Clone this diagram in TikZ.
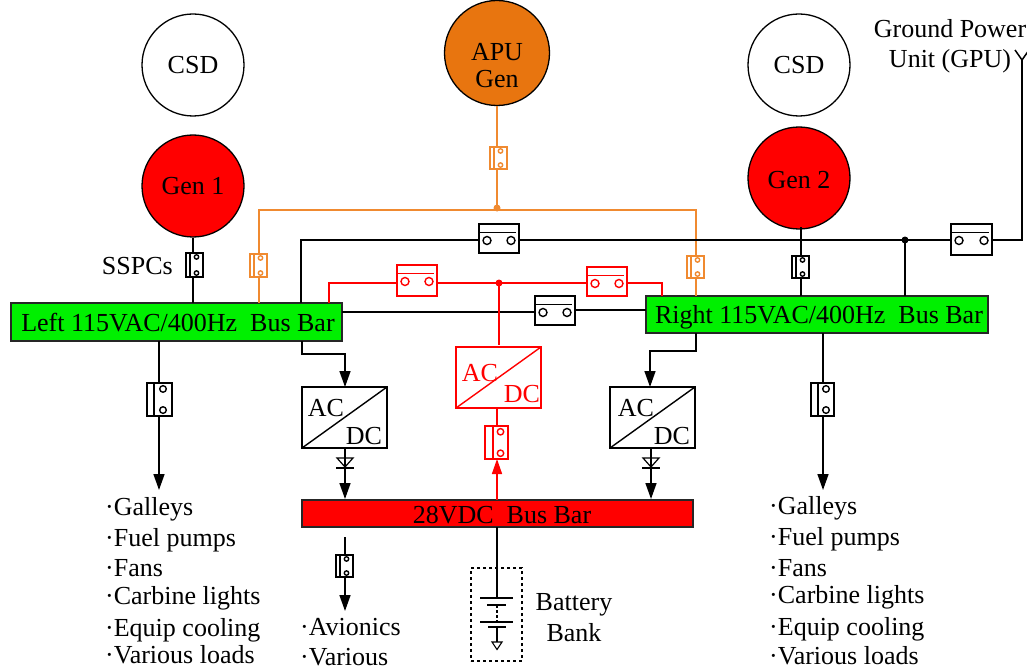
\documentclass[tikz,border=0pt]{standalone}
\usepackage{fontspec}
\setmainfont{Liberation Serif}
\usetikzlibrary{arrows.meta}
\definecolor{apuor}{HTML}{E8750F}
\definecolor{wireor}{HTML}{F08A30}
\definecolor{busgreen}{HTML}{00F000}
\tikzset{
  wire/.style={line width=1.5pt},
  arrowwire/.style={wire,-{Triangle[length=16pt,width=11pt]}},
  brk/.style={draw,rectangle,line width=1.4pt,inner sep=0pt,outer sep=0pt,fill=white},
  term/.style={line width=1.4pt,fill=white},
  disc/.style={draw=black,circle,line width=1.3pt,inner sep=0pt,minimum size=102pt,font=\fontsize{26}{28}\selectfont,align=center},
  bus/.style={draw=black!85,rectangle,line width=1.4pt,inner sep=0pt,outer sep=0pt,font=\fontsize{26}{28}\selectfont},
  conv/.style={draw,rectangle,line width=1.4pt,inner sep=0pt,outer sep=0pt,fill=white},
  label/.style={inner sep=0pt,font=\fontsize{26}{28}\selectfont,align=center},
  item/.style={inner sep=0pt,anchor=base west,font=\fontsize{26}{28}\selectfont},
  dot/.style={circle,inner sep=0pt,minimum size=7pt},
}
% horizontal breaker: name,x0,y0,x1,y1,colour
\newcommand{\hbrk}[6]{%
  \node[brk,draw=#6,minimum width={(#4-#2)*1pt},minimum height={(#5-#3)*1pt}] (#1) at ({(#2+#4)/2},{(#3+#5)/2}) {};
  \draw[#6,line width=1.4pt] ({#2+1},{#3+8.5}) -- ({#4-3},{#3+8.5});
  \draw[#6,term] ({#2+8},{#3+16.5}) circle (4);
  \draw[#6,term] ({#4-8},{#3+16.5}) circle (4);
}
% vertical breaker: name,x0,y0,x1,y1,colour,inner line offset,radius
\newcommand{\vbrk}[8]{%
  \node[brk,draw=#6,minimum width={(#4-#2)*1pt},minimum height={(#5-#3)*1pt}] (#1) at ({(#2+#4)/2},{(#3+#5)/2}) {};
  \draw[#6,line width=1.2pt] ({#2+#7},#3) -- ({#2+#7},#5);
  \draw[#6,term] ({(#2+#4)/2+#7/2},{#3+1.8*#8}) circle (#8);
  \draw[#6,term] ({(#2+#4)/2+#7/2},{#5-1.8*#8}) circle (#8);
}
% converter: name,x0,y0,x1,y1,colour,AC pos,DC pos
\newcommand{\acdc}[8]{%
  \node[conv,draw=#6,minimum width={(#4-#2)*1pt},minimum height={(#5-#3)*1pt}] (#1) at ({(#2+#4)/2},{(#3+#5)/2}) {};
  \draw[#6,line width=1.4pt] (#1.south west) -- (#1.north east);
  \node[label,text=#6] (#1-ac) at #7 {AC};
  \node[label,text=#6] (#1-dc) at #8 {DC};
}
% diode at x, top y
\newcommand{\diode}[3]{%
  \node[inner sep=0pt,minimum size=0pt] (#1) at (#2,#3) {};
  \draw[line width=1.2pt] ({#2-8},#3) -- ({#2+8},#3) -- (#2,{#3+9}) -- cycle;
  \draw[line width=1.4pt] ({#2-9},{#3+10}) -- ({#2+9},{#3+10});
}
\begin{document}
\begin{tikzpicture}[x=1pt,y=-1pt]
\useasboundingbox (0,0) rectangle (1027,671);

% ---------- sources
\node[disc,fill=white] (csd1) at (193,65) {CSD};
\node[disc,fill=red] (gen1) at (193,186) {Gen 1};
\node[disc,fill=apuor,minimum size=105pt] (apu) at (497,53) {};
\node[label] (apulabel) at (497,66) {APU\\[-1pt]Gen};
\node[disc,fill=white] (csd2) at (799,65) {CSD};
\node[disc,fill=red] (gen2) at (799,178) {};
\node[label] (gen2label) at (799,180) {Gen 2};

% ---------- buses
\node[bus,fill=busgreen,minimum width=331pt,minimum height=38pt] (lbus) at (176.5,322) {};
\node[label] (lbuslabel) at (178,323) {Left 115VAC/400Hz\ \ Bus Bar};
\node[bus,fill=busgreen,minimum width=342pt,minimum height=37pt] (rbus) at (817,314.5) {};
\node[label] (rbuslabel) at (819,317) {Right 115VAC/400Hz\ \ Bus Bar};
\node[bus,fill=red,minimum width=391pt,minimum height=27pt] (dcbus) at (497.5,513.5) {};
\node[label] (dclabel) at (502,515) {28VDC\ \ Bus Bar};

% ---------- named connection points
\coordinate (gpuant) at (1022,60);
\coordinate (gputurn) at (1022,240);
\coordinate (blkstart) at (301,240);
\coordinate (blkdown) at (301,303);
\coordinate (dotblk) at (905,240);
\coordinate (dotblkd) at (905,296);
\coordinate (ornL) at (259,210);
\coordinate (ornR) at (696,210);
\coordinate (dotorn) at (497,208);
\coordinate (redL) at (329,303);
\coordinate (redLt) at (329,283);
\coordinate (redR) at (662,296);
\coordinate (redRt) at (662,283);
\coordinate (dotred) at (499,283);
\coordinate (redend) at (499,345);

% ---------- wires first (breakers sit on top)
\draw[wireor,wire] (apu.south) -- (dotorn);
\draw[wireor,wire] (lbus.north -| ornL) -- (ornL) -- (ornR) -- (rbus.north -| ornR);
\draw[wire] (gen1.south) -- (lbus.north -| gen1.south);
\draw[wire] (blkdown) -- (blkstart) -- (gputurn) -- (gpuant);
\draw[wire] (801,227) -- (801,296);
\draw[wire] (dotblk) -- (dotblkd);
\draw[red,wire] (redL) -- (redLt) -- (redRt) -- (redR);
\draw[wire] (342,312) -- (535,312);
\draw[wire] (575,310) -- (646,310);

% antenna
\coordinate (gpuA) at (1015,50);
\coordinate (gpuB) at (1029,50);
\draw[wire] (gpuA) -- (gpuant) -- (gpuB);

% junction dots
\node[dot,fill=wireor] (jo) at (dotorn) {};
\node[dot,fill=black] (jb) at (dotblk) {};
\node[dot,fill=red] (jr) at (dotred) {};
\draw[draw=red,line width=1.5pt] (jr.center) -- (redend);

% ---------- breakers on the upper network
\vbrk{ssp1}{186}{253}{203}{277}{black}{4}{2.2}
\vbrk{ssa}{490}{147}{507}{169}{wireor}{4}{2.2}
\vbrk{ssl}{250}{254}{267}{277}{wireor}{4}{2.2}
\vbrk{ssr}{687}{256}{704}{278}{wireor}{4}{2.2}
\vbrk{ssg2}{792}{256}{809}{278}{black}{4}{2.2}
\hbrk{tie1}{479}{224}{519}{253}{black}
\hbrk{tieg}{951}{224}{992}{255}{black}
\hbrk{tie2}{535}{296}{575}{325}{black}
\hbrk{redb1}{397}{265}{437}{296}{red}
\hbrk{redb2}{587}{267}{627}{296}{red}

% ---------- converters
\acdc{cl}{302}{387}{387}{448}{black}{(326,408)}{(364,436)}
\acdc{cr}{610}{387}{695}{448}{black}{(636,408)}{(672,436)}
\acdc{cm}{456}{347}{541}{408}{red}{(480,373)}{(522,394)}

% bus to converter feeds
\coordinate (lf1) at (302,341);
\coordinate (lf2) at (302,354);
\coordinate (lf3) at (345,354);
\draw[arrowwire] (lf1) -- (lf2) -- (lf3) -- (cl.north -| lf3);
\coordinate (rf1) at (696,333);
\coordinate (rf2) at (696,351);
\coordinate (rf3) at (650,351);
\draw[arrowwire] (rf1) -- (rf2) -- (rf3) -- (cr.north -| rf3);

% load feeders
\coordinate (ll1) at (159,341);
\coordinate (ll2) at (159,490);
\draw[arrowwire] (ll1) -- (ll2);
\vbrk{bl}{147}{383}{172}{416}{black}{7}{3.3}
\coordinate (rl1) at (823,333);
\coordinate (rl2) at (823,490);
\draw[arrowwire] (rl1) -- (rl2);
\vbrk{br}{811}{383}{834}{416}{black}{7}{3.3}

% diodes and DC feeds
\coordinate (dlt) at (345,448);
\coordinate (dlb) at (345,499);
\draw[arrowwire] (dlt) -- (dlb);
\diode{dl}{345}{458}
\coordinate (drt) at (651,448);
\coordinate (drb) at (651,499);
\draw[arrowwire] (drt) -- (drb);
\diode{dr}{651}{458}

% red link between DC bus and converter
\coordinate (mt) at (497,408);
\coordinate (mb) at (497,426);
\draw[red,wire] (mt) -- (mb);
\vbrk{bm}{485}{426}{508}{459}{red}{8}{3.2}
\coordinate (mu) at (497,500);
\draw[red,wire,-{Triangle[length=15pt,width=10pt]}] (mu) -- (bm.south -| mu);

% avionics feed
\coordinate (av1) at (345,537);
\coordinate (av2) at (345,611);
\draw[arrowwire] (av1) -- (av2);
\vbrk{bav}{336}{555}{353}{577}{black}{4}{2.2}

% ---------- battery
\node[draw,dashed,line width=1.1pt,inner sep=0pt,minimum width=51pt,minimum height=93pt] (batbox) at (496.5,614.5) {};
\coordinate (bat0) at (497,527);
\coordinate (bat1) at (497,598);
\coordinate (bat2) at (497,605);
\coordinate (bat3) at (497,622);
\coordinate (bat4) at (497,627);
\coordinate (bat5) at (497,642);
\draw[wire] (bat0) -- (bat1);
\draw[wire] (480,598) -- (513,598);
\draw[wire] (487,605) -- (506,605);
\draw[wire,densely dashed] (bat2) -- (bat3);
\draw[wire] (480,622) -- (513,622);
\draw[wire] (488,627) -- (506,627);
\draw[wire] (bat4) -- (bat5);
\draw[line width=1.1pt] (492,642) -- (502,642) -- (497,649.5) -- cycle;

% ---------- labels
\node[label,anchor=east] (sspc) at (173,266) {SSPCs};
\node[label] (bat-a) at (574,605) {Battery};
\node[label] (bat-b) at (574,633) {Bank};
\node[label] (gpu-a) at (950,29) {Ground Power};
\node[label] (gpu-b) at (950,61) {Unit (GPU)};

\node[item] (la) at (105,515) {·Galleys};
\node[item] (lb) at (105,546) {·Fuel pumps};
\node[item] (lc) at (105,576) {·Fans};
\node[item] (ld) at (105,604) {·Carbine lights};
\node[item] (le) at (105,636) {·Equip cooling};
\node[item] (lf) at (105,663) {·Various loads};

\node[item] (ra) at (769,514) {·Galleys};
\node[item] (rb) at (769,545) {·Fuel pumps};
\node[item] (rc) at (769,576) {·Fans};
\node[item] (rd) at (769,603) {·Carbine lights};
\node[item] (re) at (769,635) {·Equip cooling};
\node[item] (rf) at (769,664) {·Various loads};

\node[item] (aa) at (300,635) {·Avionics};
\node[item] (ab) at (300,665) {·Various};
\end{tikzpicture}
\end{document}
